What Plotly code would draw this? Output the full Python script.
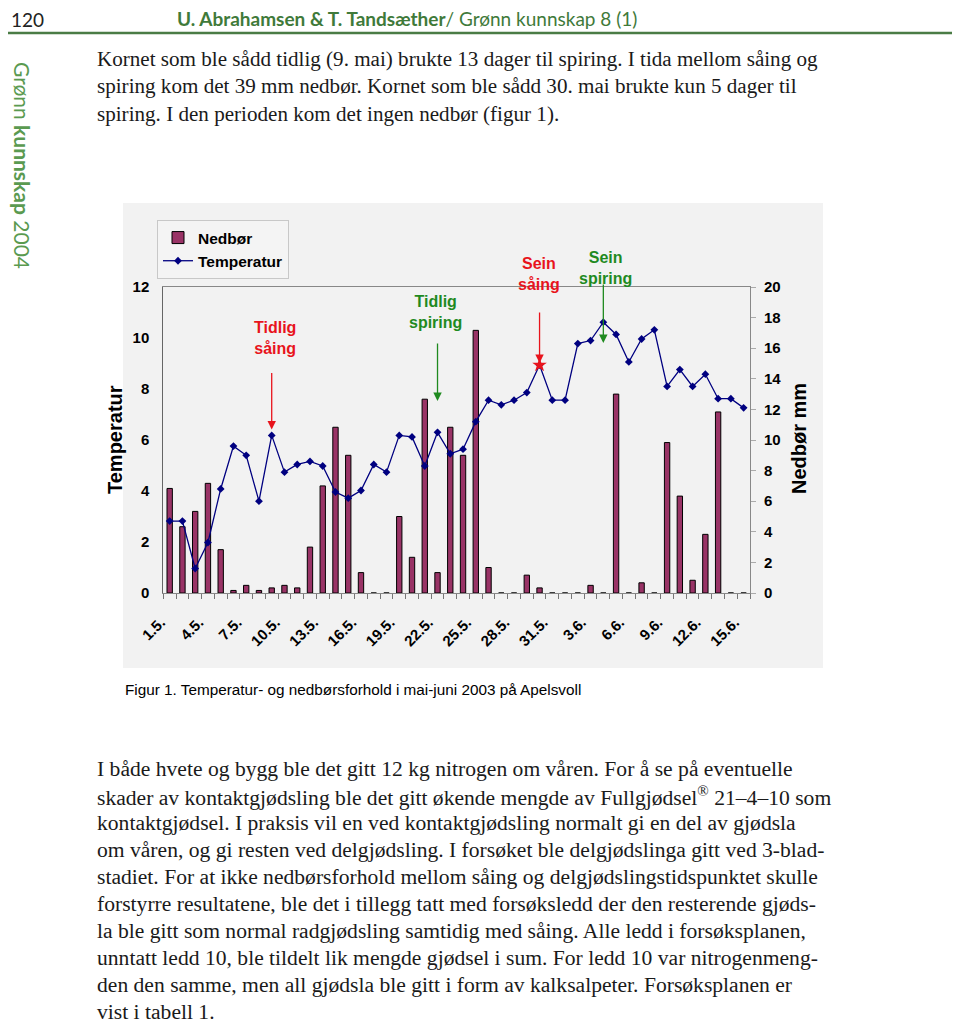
import plotly.graph_objects as go

# the page body has an 8px margin, so the figure is drawn 8px in from the window edge
OFF = 8
W, H = 952, 1016

# ---------------- data ----------------
dates = ["1.5.", "2.5.", "3.5.", "4.5.", "5.5.", "6.5.", "7.5.", "8.5.", "9.5.", "10.5.",
         "11.5.", "12.5.", "13.5.", "14.5.", "15.5.", "16.5.", "17.5.", "18.5.", "19.5.", "20.5.",
         "21.5.", "22.5.", "23.5.", "24.5.", "25.5.", "26.5.", "27.5.", "28.5.", "29.5.", "30.5.",
         "31.5.", "1.6.", "2.6.", "3.6.", "4.6.", "5.6.", "6.6.", "7.6.", "8.6.", "9.6.",
         "10.6.", "11.6.", "12.6.", "13.6.", "14.6.", "15.6."]
tick_labels = ["1.5.", "4.5.", "7.5.", "10.5.", "13.5.", "16.5.", "19.5.", "22.5.", "25.5.",
               "28.5.", "31.5.", "3.6.", "6.6.", "9.6.", "12.6.", "15.6."]
nedbor = [4.1, 2.6, 3.2, 4.3, 1.7, 0.1, 0.3, 0.1, 0.2, 0.3,
          0.2, 1.8, 4.2, 6.5, 5.4, 0.8, 0.0, 0.0, 3.0, 1.4,
          7.6, 0.8, 6.5, 5.4, 10.3, 1.0, 0.0, 0.0, 0.7, 0.2,
          0.0, 0.0, 0.0, 0.3, 0.0, 7.8, 0.0, 0.4, 0.0, 5.9,
          3.8, 0.5, 2.3, 7.1, 0.0, 0.0]
temperatur = [4.7, 4.7, 1.6, 3.3, 6.8, 9.6, 9.0, 6.0, 10.3, 7.9,
              8.4, 8.6, 8.3, 6.6, 6.2, 6.7, 8.4, 7.9, 10.3, 10.2,
              8.3, 10.5, 9.1, 9.4, 11.2, 12.6, 12.3, 12.6, 13.1, 14.9,
              12.6, 12.6, 16.3, 16.5, 17.7, 16.9, 15.1, 16.6, 17.2, 13.5,
              14.6, 13.5, 14.3, 12.7, 12.7, 12.1]
left_ticks = [0, 2, 4, 6, 8, 10, 12]
right_ticks = [0, 2, 4, 6, 8, 10, 12, 14, 16, 18, 20]

events = {"tidlig_saing": "9.5.", "tidlig_spiring": "22.5.",
          "sein_saing": "30.5.", "sein_spiring": "4.6."}

RED = "#e8141c"
GREEN = "#1f8a1f"
HEADGREEN = "#3f7a3a"
BAR = "#993366"
NAVY = "#000080"
SANS = "Liberation Sans, Arial, sans-serif"
SERIF = "Liberation Serif, Times New Roman, serif"

PLOT_TOP, PLOT_BOT = 287, 593


def px(x):
    return (x - OFF) / W


def py(y):
    return 1 - (y - OFF) / H


def ydom(y):
    return (PLOT_BOT - y) / (PLOT_BOT - PLOT_TOP)


fig = go.Figure()

fig.add_trace(go.Bar(
    x=dates, y=nedbor, name="Nedbør", width=0.42,
    marker=dict(color=BAR, line=dict(color="#000000", width=1)),
    yaxis="y"))

fig.add_trace(go.Scatter(
    x=dates, y=temperatur, name="Temperatur", mode="lines+markers",
    line=dict(color=NAVY, width=1.3),
    marker=dict(symbol="diamond", size=6, color=NAVY),
    yaxis="y2"))

i_ss = dates.index(events["sein_saing"])
fig.add_trace(go.Scatter(
    x=[dates[i_ss]], y=[temperatur[i_ss]], mode="markers", showlegend=False,
    marker=dict(symbol="star", size=11, color=RED), yaxis="y2"))

# trailing no-break spaces push the rotated labels slightly left/down, as in the original
ticktext = [d + "\u00a0\u00a0\u00a0" if d in tick_labels else " " for d in dates]

fig.update_layout(
    width=W, height=H,
    autosize=False,
    margin=dict(l=0, r=0, t=0, b=0, pad=0, autoexpand=False),
    paper_bgcolor="white",
    plot_bgcolor="#f2f2f2",
    showlegend=True,
    bargap=0.58,
    legend=dict(x=px(157), y=py(220), xanchor="left", yanchor="top",
                bgcolor="#f4f4f4", bordercolor="#c8c8c8", borderwidth=1,
                font=dict(family=SANS, size=15.5, color="black", weight="bold"),
                tracegroupgap=0, itemwidth=30),
    xaxis=dict(domain=[px(163.3), px(750)], type="category",
               categoryorder="array", categoryarray=dates,
               range=[-0.5, len(dates) - 0.5], automargin=False,
               tickmode="array", tickvals=dates, ticktext=ticktext,
               tickson="boundaries", ticks="outside", ticklen=5, tickcolor="#777",
               ticklabelstandoff=5,
               tickangle=-45, tickfont=dict(family=SANS, size=15, color="black", weight="bold"),
               showline=True, linecolor="#888", linewidth=1, mirror=True,
               showgrid=False, zeroline=False),
    yaxis=dict(domain=[py(PLOT_BOT), py(PLOT_TOP)], range=[0, 12], automargin=False,
               tickmode="array", tickvals=left_ticks,
               ticks="", ticklabelstandoff=10,
               tickfont=dict(family=SANS, size=15, color="black", weight="bold"),
               showline=True, linecolor="#666", linewidth=1,
               showgrid=False, zeroline=False),
    yaxis2=dict(overlaying="y", side="right", range=[0, 20], automargin=False,
                tickmode="array", tickvals=right_ticks,
                ticks="outside", ticklen=5, tickcolor="#aaa", ticklabelstandoff=5,
                tickfont=dict(family=SANS, size=15, color="black", weight="bold"),
                showline=True, linecolor="#888", linewidth=1,
                showgrid=False, zeroline=False),
)

shapes = [
    dict(type="rect", xref="paper", yref="paper", x0=px(123), x1=px(823), y0=py(668), y1=py(203),
         fillcolor="#f2f2f2", line=dict(width=0), layer="below"),
    dict(type="line", xref="paper", yref="paper", x0=px(8), x1=px(960), y0=py(33), y1=py(33),
         line=dict(color="#4a7c45", width=2.5)),
]
fig.update_layout(shapes=shapes)

ann = []


def text(x, y, s, size, color="black", family=SANS, xanchor="left", angle=0):
    ann.append(dict(x=px(x), y=py(y), xref="paper", yref="paper", text=s, showarrow=False,
                    xanchor=xanchor, yanchor="middle", textangle=angle, align="center",
                    font=dict(family=family, size=size, color=color)))


# header (cannot go above the 8px page margin)
text(9, 20, "120", 19, "#222", "Lato, sans-serif")
text(175, 19, "<b>U. Abrahamsen & T. Tandsæther</b>/ Grønn kunnskap 8 (1)", 19, HEADGREEN,
     "Lato, sans-serif")
ann.append(dict(x=px(22), y=py(165), xref="paper", yref="paper",
                text="Grønn <b>kunnskap</b> 2004", showarrow=False, textangle=90,
                xanchor="center", yanchor="middle",
                font=dict(family="Lato, sans-serif", size=21, color="#5a9a50")))

para1 = ["Kornet som ble sådd tidlig (9. mai) brukte 13 dager til spiring. I tida mellom såing og",
         "spiring kom det 39 mm nedbør. Kornet som ble sådd 30. mai brukte kun 5 dager til",
         "spiring. I den perioden kom det ingen nedbør (figur 1)."]
for k, line in enumerate(para1):
    text(95, 59 + 27.3 * k, line, 21.1, "#1a1a1a", SERIF)

para2 = ["I både hvete og bygg ble det gitt 12 kg nitrogen om våren. For å se på eventuelle",
         "skader av kontaktgjødsling ble det gitt økende mengde av Fullgjødsel<sup>®</sup> 21–4–10 som",
         "kontaktgjødsel. I praksis vil en ved kontaktgjødsling normalt gi en del av gjødsla",
         "om våren, og gi resten ved delgjødsling. I forsøket ble delgjødslinga gitt ved 3-blad-",
         "stadiet. For at ikke nedbørsforhold mellom såing og delgjødslingstidspunktet skulle",
         "forstyrre resultatene, ble det i tillegg tatt med forsøksledd der den resterende gjøds-",
         "la ble gitt som normal radgjødsling samtidig med såing. Alle ledd i forsøksplanen,",
         "unntatt ledd 10, ble tildelt lik mengde gjødsel i sum. For ledd 10 var nitrogenmeng-",
         "den den samme, men all gjødsla ble gitt i form av kalksalpeter. Forsøksplanen er",
         "vist i tabell 1."]
for k, line in enumerate(para2):
    text(95, 769 + 27.0 * k, line, 21.6, "#1a1a1a", SERIF)

text(123, 689, "Figur 1. Temperatur- og nedbørsforhold i mai-juni 2003 på Apelsvoll", 15.3, "black", SANS)

ann.append(dict(x=px(115), y=py(440), xref="paper", yref="paper", text="<b>Temperatur</b>",
                showarrow=False, textangle=-90, xanchor="center", yanchor="middle",
                font=dict(family=SANS, size=20, color="black")))
ann.append(dict(x=px(799), y=py(439), xref="paper", yref="paper", text="<b>Nedbør mm</b>",
                showarrow=False, textangle=-90, xanchor="center", yanchor="middle",
                font=dict(family=SANS, size=20, color="black")))

text(275, 338, "<b>Tidlig<br>såing</b>", 16, RED, SANS, xanchor="center")
text(435, 312, "<b>Tidlig<br>spiring</b>", 16, GREEN, SANS, xanchor="center")
text(539, 274, "<b>Sein<br>såing</b>", 16, RED, SANS, xanchor="center")
text(605, 268, "<b>Sein<br>spiring</b>", 16, GREEN, SANS, xanchor="center")

i_ts = dates.index(events["tidlig_saing"])
ann.append(dict(x=dates[i_ts], y=temperatur[i_ts], xref="x", yref="y2", text="",
                showarrow=True, ax=0, ay=-64, standoff=6, arrowhead=2, arrowsize=1.3,
                arrowwidth=1.3, arrowcolor=RED))
ann.append(dict(x=dates[i_ss], y=temperatur[i_ss], xref="x", yref="y2", text="",
                showarrow=True, ax=0, ay=-54, standoff=2, arrowhead=2, arrowsize=1.3,
                arrowwidth=1.3, arrowcolor=RED))
i_tp = dates.index(events["tidlig_spiring"])
ann.append(dict(x=dates[i_tp], y=ydom(401), xref="x", yref="y domain", text="",
                showarrow=True, ax=0, ay=-59,
                arrowhead=2, arrowsize=1.3, arrowwidth=1.3, arrowcolor=GREEN))
i_sp = dates.index(events["sein_spiring"])
ann.append(dict(x=dates[i_sp], y=ydom(343), xref="x", yref="y domain", text="",
                showarrow=True, ax=0, ay=-60,
                arrowhead=2, arrowsize=1.3, arrowwidth=1.3, arrowcolor=GREEN))

fig.update_layout(annotations=ann)

fig.write_html("out.html", config={"displayModeBar": False})
